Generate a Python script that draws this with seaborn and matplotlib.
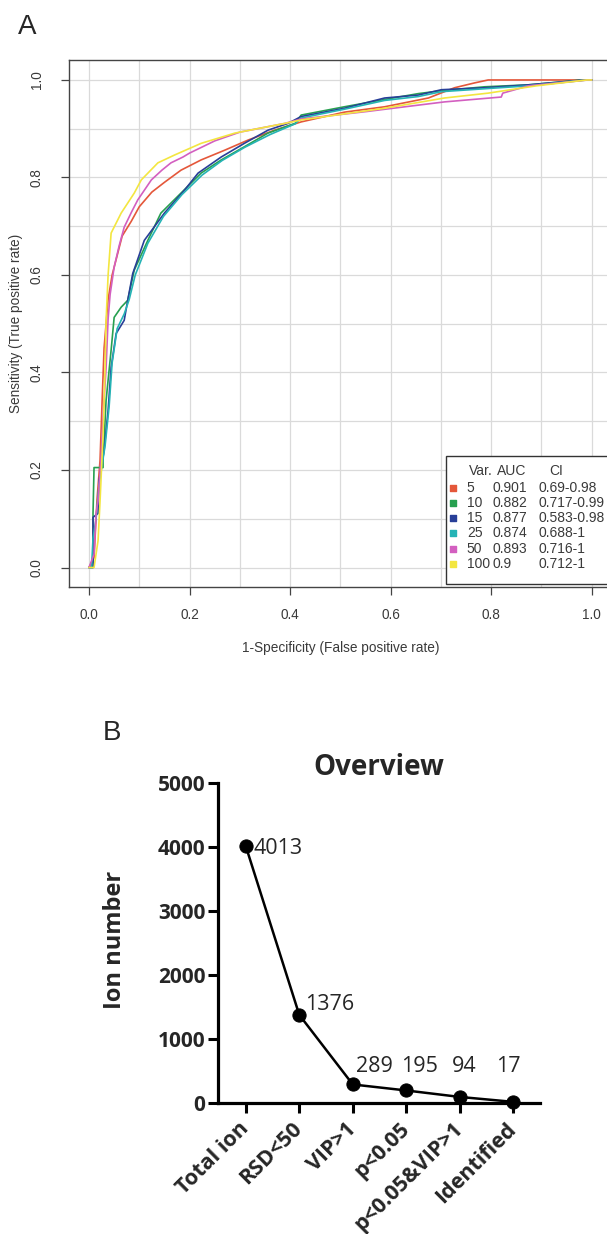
import numpy as np
import pandas as pd
import matplotlib
matplotlib.use('Agg')
import matplotlib.pyplot as plt
from matplotlib.patches import Rectangle
import seaborn as sns

# panel A - ROC curves, one pair of lists per variable count
fpr_5 = [0, 0.01, 0.016, 0.022, 0.026, 0.03, 0.038, 0.046, 0.056, 0.066, 0.084, 0.1, 0.125, 0.15,
         0.183, 0.223, 0.27, 0.317, 0.369, 0.422, 0.508, 0.588, 0.675, 0.727, 0.767, 0.794, 1.0]
tpr_5 = [0, 0.02, 0.14, 0.22, 0.34, 0.45, 0.55, 0.6, 0.64, 0.68, 0.71, 0.74, 0.77, 0.79,
         0.815, 0.836, 0.856, 0.877, 0.897, 0.914, 0.934, 0.945, 0.963, 0.984, 0.994, 1.0, 1.0]

fpr_10 = [0, 0.008, 0.008, 0.01, 0.028, 0.028, 0.03, 0.034, 0.044, 0.05, 0.064, 0.077, 0.09, 0.117,
          0.143, 0.183, 0.223, 0.263, 0.309, 0.356, 0.41, 0.422, 0.508, 0.588, 0.655, 0.701, 0.787,
          0.874, 0.98, 1.0]
tpr_10 = [0, 0.0, 0.111, 0.205, 0.205, 0.226, 0.26, 0.343, 0.446, 0.513, 0.534, 0.548, 0.61, 0.671,
          0.727, 0.768, 0.809, 0.836, 0.863, 0.891, 0.911, 0.928, 0.945, 0.96, 0.972, 0.978, 0.986,
          0.99, 1.0, 1.0]

fpr_15 = [0, 0.008, 0.008, 0.018, 0.02, 0.03, 0.038, 0.044, 0.054, 0.07, 0.077, 0.087, 0.11, 0.15,
          0.19, 0.217, 0.263, 0.309, 0.356, 0.396, 0.422, 0.508, 0.588, 0.655, 0.701, 0.787, 0.874,
          0.986, 1.0]
tpr_15 = [0, 0.0, 0.103, 0.111, 0.179, 0.24, 0.322, 0.41, 0.48, 0.507, 0.548, 0.603, 0.671, 0.727,
          0.774, 0.809, 0.842, 0.87, 0.897, 0.911, 0.925, 0.942, 0.963, 0.969, 0.98, 0.984, 0.99,
          1.0, 1.0]

fpr_25 = [0, 0.005, 0.008, 0.014, 0.02, 0.032, 0.04, 0.046, 0.056, 0.07, 0.08, 0.092, 0.117, 0.148,
          0.185, 0.225, 0.265, 0.31, 0.36, 0.41, 0.422, 0.508, 0.588, 0.655, 0.701, 0.787, 0.874,
          0.99, 1.0]
tpr_25 = [0, 0.0, 0.06, 0.1, 0.17, 0.25, 0.33, 0.42, 0.49, 0.52, 0.55, 0.6, 0.665, 0.72,
          0.765, 0.805, 0.835, 0.862, 0.888, 0.91, 0.922, 0.94, 0.958, 0.966, 0.976, 0.982, 0.988,
          1.0, 1.0]

fpr_50 = [0, 0.01, 0.014, 0.018, 0.024, 0.028, 0.034, 0.038, 0.042, 0.05, 0.06, 0.07, 0.085, 0.097,
          0.124, 0.145, 0.163, 0.187, 0.2, 0.25, 0.3, 0.39, 0.422, 0.55, 0.707, 0.82, 0.823, 0.847,
          0.874, 0.993, 1.0]
tpr_50 = [0, 0.027, 0.11, 0.137, 0.226, 0.31, 0.41, 0.51, 0.56, 0.616, 0.66, 0.698, 0.73, 0.754,
          0.795, 0.815, 0.83, 0.842, 0.85, 0.875, 0.893, 0.911, 0.92, 0.935, 0.955, 0.965, 0.973, 0.98,
          0.988, 1.0, 1.0]

fpr_100 = [0, 0.01, 0.018, 0.022, 0.028, 0.032, 0.034, 0.038, 0.044, 0.064, 0.09, 0.104, 0.137, 0.17,
           0.223, 0.29, 0.39, 0.422, 0.588, 0.707, 0.794, 0.89, 0.99, 1.0]
tpr_100 = [0, 0.0, 0.055, 0.137, 0.274, 0.41, 0.507, 0.6, 0.686, 0.727, 0.768, 0.795, 0.83, 0.846,
           0.87, 0.891, 0.911, 0.918, 0.942, 0.963, 0.973, 0.988, 1.0, 1.0]

var_levels = ['5', '10', '15', '25', '50', '100']
auc_values = ['0.901', '0.882', '0.877', '0.874', '0.893', '0.9']
ci_values = ['0.69-0.98', '0.717-0.99', '0.583-0.98', '0.688-1', '0.716-1', '0.712-1']
roc_colors = ['#e4573a', '#27a050', '#283f98', '#25b3b5', '#d35fc0', '#f3e640']

# panel B - ion filtering overview
steps = ['Total ion', 'RSD<50', 'VIP>1', 'p<0.05', 'p<0.05&VIP>1', 'Identified']
ion_counts = [4013, 1376, 289, 195, 94, 17]
# label offsets (points) for the numbers next to each marker
label_offsets = [(5.8, -1.4), (4.3, 7.5), (15.8, 12.6), (9.4, 16.9), (2.9, 21.6), (-3.6, 25.2)]

roc_x = [fpr_5, fpr_10, fpr_15, fpr_25, fpr_50, fpr_100]
roc_y = [tpr_5, tpr_10, tpr_15, tpr_25, tpr_50, tpr_100]
frames = []
for lvl, xs, ys in zip(var_levels, roc_x, roc_y):
    frames.append(pd.DataFrame({'fpr': xs, 'tpr': ys, 'var': lvl}))
roc_df = pd.concat(frames, ignore_index=True)

sns.set_style('white')
plt.rcParams['font.family'] = ['Liberation Sans', 'DejaVu Sans']

fig = plt.figure(figsize=(6.07, 12.34), dpi=100)

# ---------------- panel A ----------------
txt_col = '#3a3a3a'
ax_a = fig.add_axes([0.1135, 0.5243, 0.8945, 0.4267])
sns.lineplot(data=roc_df, x='fpr', y='tpr', hue='var', hue_order=var_levels,
             palette=roc_colors, estimator=None, sort=False, legend=False,
             linewidth=1.2, ax=ax_a)
ax_a.set_xlim(-0.04, 1.04)
ax_a.set_ylim(-0.04, 1.04)
ax_a.set_xticks(np.arange(0, 1.01, 0.2))
ax_a.set_yticks(np.arange(0, 1.01, 0.2))
ax_a.set_xticks(np.arange(0, 1.01, 0.1), minor=True)
ax_a.set_yticks(np.arange(0, 1.01, 0.1), minor=True)
ax_a.set_xticklabels(['%.1f' % v for v in np.arange(0, 1.01, 0.2)])
ax_a.set_yticklabels(['%.1f' % v for v in np.arange(0, 1.01, 0.2)], rotation=90, va='center')
ax_a.grid(True, which='both', color='#dadada', linewidth=0.9)
ax_a.set_axisbelow(True)
ax_a.tick_params(which='major', direction='out', length=6, width=0.9, color='#444444',
                 labelsize=9.8, labelcolor=txt_col, bottom=True, left=True)
ax_a.tick_params(axis='x', pad=9)
ax_a.tick_params(axis='y', pad=12)
ax_a.tick_params(which='minor', length=0)
for sp in ax_a.spines.values():
    sp.set_color('#444444')
    sp.set_linewidth(1.0)
ax_a.set_xlabel('1-Specificity (False positive rate)', fontsize=9.8, color=txt_col, labelpad=14)
ax_a.set_ylabel('Sensitivity (True positive rate)', fontsize=9.8, color=txt_col)
ax_a.yaxis.set_label_coords(-0.085, 0.5)

# legend drawn as a small table inside the axes
box = Rectangle((0.694, 0.006), 0.4, 0.243, transform=ax_a.transAxes, facecolor='white',
                edgecolor='#333333', linewidth=1.0, zorder=5)
ax_a.add_patch(box)
leg_fs = 10
ax_a.text(0.736, 0.220, 'Var.', transform=ax_a.transAxes, fontsize=leg_fs, color=txt_col,
          va='center', zorder=6)
ax_a.text(0.788, 0.220, 'AUC', transform=ax_a.transAxes, fontsize=leg_fs, color=txt_col,
          va='center', zorder=6)
ax_a.text(0.884, 0.220, 'CI', transform=ax_a.transAxes, fontsize=leg_fs, color=txt_col,
          va='center', zorder=6)
row_y = [0.188, 0.160, 0.132, 0.102, 0.072, 0.043]
for yy, lvl, auc, ci, col in zip(row_y, var_levels, auc_values, ci_values, roc_colors):
    ax_a.scatter([0.708], [yy], marker='s', s=14, color=col, transform=ax_a.transAxes,
                 zorder=6, clip_on=False)
    ax_a.text(0.733, yy, lvl, transform=ax_a.transAxes, fontsize=leg_fs, color=txt_col,
              va='center', zorder=6)
    ax_a.text(0.780, yy, auc, transform=ax_a.transAxes, fontsize=leg_fs, color=txt_col,
              va='center', zorder=6)
    ax_a.text(0.865, yy, ci, transform=ax_a.transAxes, fontsize=leg_fs, color=txt_col,
              va='center', zorder=6, clip_on=True)

fig.text(27 / 607, 1 - 27 / 1234, 'A', fontsize=20, ha='center', va='center')

# ---------------- panel B ----------------
bfont = ['Open Sans', 'DejaVu Sans']
ax_b = fig.add_axes([0.3591, 0.1062, 0.5305, 0.2593])
positions = np.arange(len(steps))
sns.lineplot(x=positions, y=ion_counts, color='black', marker='o', markersize=9.5,
             markeredgecolor='black', linewidth=1.8, ax=ax_b)
for ln in ax_b.lines:
    ln.set_clip_on(False)
ax_b.set_xlim(-0.52, 5.5)
ax_b.set_ylim(0, 5000)
ax_b.set_yticks([0, 1000, 2000, 3000, 4000, 5000])
ax_b.set_yticklabels(['0', '1000', '2000', '3000', '4000', '5000'],
                     fontsize=15, fontweight='bold', family=bfont)
ax_b.set_xticks(positions)
ax_b.set_xticklabels(steps, rotation=45, ha='right', va='center', rotation_mode='anchor',
                     fontsize=15.5, fontweight='bold', family=bfont)
ax_b.tick_params(axis='both', direction='out', length=7.5, width=2.2, color='black',
                 bottom=True, left=True)
ax_b.tick_params(axis='y', pad=1.5)
ax_b.tick_params(axis='x', pad=9)
sns.despine(ax=ax_b)
for side in ['left', 'bottom']:
    ax_b.spines[side].set_linewidth(2.3)
    ax_b.spines[side].set_color('black')
ax_b.set_ylabel('Ion number', fontsize=17, fontweight='bold', family=bfont)
ax_b.yaxis.set_label_coords(-0.283, 0.51)
ax_b.set_title('Overview', fontsize=20, fontweight='bold', family=bfont, pad=6)

for i, (val, off) in enumerate(zip(ion_counts, label_offsets)):
    ha = 'left' if i < 2 else 'center'
    ax_b.annotate(str(val), xy=(positions[i], val), xytext=off, textcoords='offset points',
                  ha=ha, va='center', fontsize=15.5, family=bfont)

fig.text(112 / 607, 1 - 733 / 1234, 'B', fontsize=20, ha='center', va='center')

fig.savefig('out.png', dpi=100, facecolor='white')
